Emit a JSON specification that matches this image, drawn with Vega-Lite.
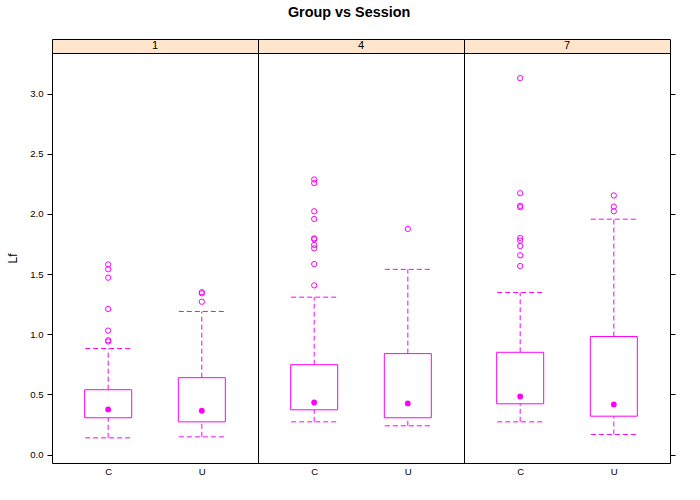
{
  "$schema": "https://vega.github.io/schema/vega-lite/v6.json",
  "title": {"text": "Group vs Session", "fontSize": 14.4, "font": "Liberation Sans", "fontWeight": "bold", "anchor": "middle", "offset": 18, "dx": 8, "color": "black"},
  "padding": {"left": 6, "top": 5, "right": 5, "bottom": 5},
  "bounds": "flush",
  "spacing": 14,
  "background": "white",
  "config": {"font": "Liberation Sans", "view": {"stroke": "black"}},
  "datasets": {
    "strips": [{"session": "1"}, {"session": "4"}, {"session": "7"}],
    "lf": [
      {"session": "1", "group": "C", "lower": 0.139, "q1": 0.306, "median": 0.375, "q3": 0.539, "upper": 0.881},
      {"session": "1", "group": "U", "lower": 0.147, "q1": 0.272, "median": 0.364, "q3": 0.639, "upper": 1.189},
      {"session": "4", "group": "C", "lower": 0.272, "q1": 0.372, "median": 0.433, "q3": 0.747, "upper": 1.308},
      {"session": "4", "group": "U", "lower": 0.239, "q1": 0.306, "median": 0.425, "q3": 0.839, "upper": 1.539},
      {"session": "7", "group": "C", "lower": 0.272, "q1": 0.422, "median": 0.483, "q3": 0.85, "upper": 1.347},
      {"session": "7", "group": "U", "lower": 0.167, "q1": 0.319, "median": 0.417, "q3": 0.981, "upper": 1.956},
      {"session": "1", "group": "C", "value": 1.58},
      {"session": "1", "group": "C", "value": 1.54},
      {"session": "1", "group": "C", "value": 1.47},
      {"session": "1", "group": "C", "value": 1.21},
      {"session": "1", "group": "C", "value": 1.03},
      {"session": "1", "group": "C", "value": 0.95},
      {"session": "1", "group": "C", "value": 0.94},
      {"session": "1", "group": "U", "value": 1.35},
      {"session": "1", "group": "U", "value": 1.34},
      {"session": "1", "group": "U", "value": 1.27},
      {"session": "4", "group": "C", "value": 2.286},
      {"session": "4", "group": "C", "value": 2.256},
      {"session": "4", "group": "C", "value": 2.022},
      {"session": "4", "group": "C", "value": 1.958},
      {"session": "4", "group": "C", "value": 1.797},
      {"session": "4", "group": "C", "value": 1.789},
      {"session": "4", "group": "C", "value": 1.742},
      {"session": "4", "group": "C", "value": 1.714},
      {"session": "4", "group": "C", "value": 1.583},
      {"session": "4", "group": "C", "value": 1.406},
      {"session": "4", "group": "U", "value": 1.875},
      {"session": "7", "group": "C", "value": 3.128},
      {"session": "7", "group": "C", "value": 2.172},
      {"session": "7", "group": "C", "value": 2.067},
      {"session": "7", "group": "C", "value": 2.056},
      {"session": "7", "group": "C", "value": 1.8},
      {"session": "7", "group": "C", "value": 1.778},
      {"session": "7", "group": "C", "value": 1.733},
      {"session": "7", "group": "C", "value": 1.656},
      {"session": "7", "group": "C", "value": 1.567},
      {"session": "7", "group": "U", "value": 2.153},
      {"session": "7", "group": "U", "value": 2.061},
      {"session": "7", "group": "U", "value": 2.022}
    ]
  },
  "vconcat": [
    {
      "data": {"name": "strips"},
      "facet": {"column": {"field": "session", "type": "nominal", "header": null}},
      "spacing": 0,
      "bounds": "flush",
      "spec": {
        "width": 206,
        "height": 14,
        "view": {"fill": "#ffe5cc", "stroke": "black"},
        "mark": {"type": "text", "fontSize": 11, "font": "Liberation Sans", "color": "black"},
        "encoding": {"text": {"field": "session", "type": "nominal"}}
      }
    },
    {
      "data": {"name": "lf"},
      "facet": {"column": {"field": "session", "type": "nominal", "header": null}},
      "spacing": 0,
      "bounds": "flush",
      "spec": {
        "width": 206,
        "height": 410,
        "encoding": {
          "x": {"field": "group", "type": "nominal", "scale": {"type": "point", "padding": 0.6},
                "axis": {"title": null, "labelAngle": 0, "ticks": false, "domain": false, "labelFontSize": 9.6, "labelPadding": 3, "labelColor": "black", "grid": false}}
        },
        "layer": [
          {
            "transform": [{"filter": "isValid(datum.q3)"}],
            "mark": {"type": "rule", "color": "#ff00ff", "strokeDash": [5, 3], "strokeWidth": 1},
            "encoding": {
              "y": {"field": "q3", "type": "quantitative", "scale": {"domain": [-0.07, 3.337], "nice": false, "zero": false},
                    "axis": {"orient": "left", "title": "Lf", "values": [0, 0.5, 1, 1.5, 2, 2.5, 3], "format": ".1f", "tickSize": 5, "labelPadding": 4, "labelFontSize": 9.6, "titleFontSize": 12, "titleFontWeight": "normal", "titleColor": "black", "titlePadding": 10, "grid": false, "domain": false, "tickColor": "black", "labelColor": "black"}},
              "y2": {"field": "upper"}
            }
          },
          {
            "transform": [{"filter": "isValid(datum.q1)"}],
            "mark": {"type": "rule", "color": "#ff00ff", "strokeDash": [5, 3], "strokeWidth": 1},
            "encoding": {
              "y": {"field": "lower", "type": "quantitative",
                    "axis": {"orient": "right", "title": null, "labels": false, "values": [0, 0.5, 1, 1.5, 2, 2.5, 3], "tickSize": 5, "grid": false, "domain": false, "tickColor": "black"}},
              "y2": {"field": "q1"}
            }
          },
          {
            "transform": [{"filter": "isValid(datum.upper)"}],
            "mark": {"type": "rule", "color": "#ff00ff", "strokeDash": [5, 3], "strokeWidth": 1, "xOffset": -23, "x2Offset": 23},
            "encoding": {
              "x2": {"field": "group"},
              "y": {"field": "upper", "type": "quantitative", "axis": null}
            }
          },
          {
            "transform": [{"filter": "isValid(datum.lower)"}],
            "mark": {"type": "rule", "color": "#ff00ff", "strokeDash": [5, 3], "strokeWidth": 1, "xOffset": -23, "x2Offset": 23},
            "encoding": {
              "x2": {"field": "group"},
              "y": {"field": "lower", "type": "quantitative", "axis": null}
            }
          },
          {
            "transform": [{"filter": "isValid(datum.q1)"}],
            "mark": {"type": "bar", "size": 47, "fill": "transparent", "stroke": "#ff00ff", "strokeWidth": 1},
            "encoding": {
              "y": {"field": "q1", "type": "quantitative", "axis": null},
              "y2": {"field": "q3"}
            }
          },
          {
            "transform": [{"filter": "isValid(datum.median)"}],
            "mark": {"type": "point", "shape": "circle", "filled": true, "size": 34, "color": "#ff00ff", "opacity": 1},
            "encoding": {
              "y": {"field": "median", "type": "quantitative", "axis": null}
            }
          },
          {
            "transform": [{"filter": "isValid(datum.value)"}],
            "mark": {"type": "point", "shape": "circle", "filled": false, "size": 28, "color": "#ff00ff", "strokeWidth": 1, "opacity": 1},
            "encoding": {
              "y": {"field": "value", "type": "quantitative", "axis": null}
            }
          }
        ],
        "resolve": {"axis": {"y": "independent"}}
      }
    }
  ]
}
